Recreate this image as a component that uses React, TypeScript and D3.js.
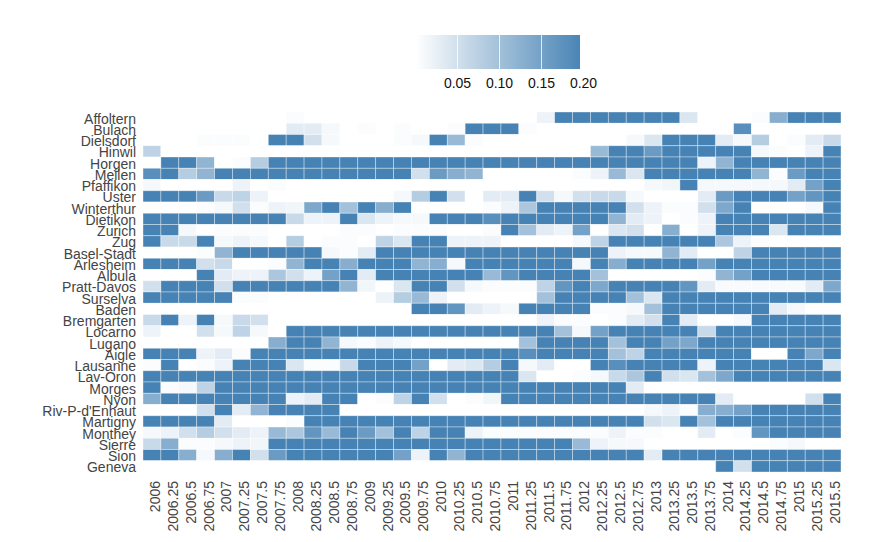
import React from "react";
import * as d3 from "d3";

const regions = [
  "Affoltern", "Bulach", "Dielsdorf", "Hinwil", "Horgen", "Meilen", "Pfaffikon", "Uster",
  "Winterthur", "Dietikon", "Zurich", "Zug", "Basel-Stadt", "Arlesheim", "Albula", "Pratt-Davos",
  "Surselva", "Baden", "Bremgarten", "Locarno", "Lugano", "Aigle", "Lausanne", "Lav-Oron",
  "Morges", "Nyon", "Riv-P-d'Enhaut", "Martigny", "Monthey", "Sierre", "Sion", "Geneva",
];

const periods = [
  "2006", "2006.25", "2006.5", "2006.75", "2007", "2007.25", "2007.5", "2007.75",
  "2008", "2008.25", "2008.5", "2008.75", "2009", "2009.25", "2009.5", "2009.75",
  "2010", "2010.25", "2010.5", "2010.75", "2011", "2011.25", "2011.5", "2011.75",
  "2012", "2012.25", "2012.5", "2012.75", "2013", "2013.25", "2013.5", "2013.75",
  "2014", "2014.25", "2014.5", "2014.75", "2015", "2015.25", "2015.5",
];

// one row per region, one value per quarter
const values: number[][] = [
  /* Affoltern */ [0, 0, 0, 0, 0, 0, 0, 0, .005, 0, 0, 0, 0, 0, 0, 0, 0, 0, 0, 0, 0, 0, .02, .2, .2, .2, .2, .2, .2, .2, .04, 0, 0, 0, .005, .13, .2, .2, .2],
  /* Bulach */ [0, 0, 0, 0, 0, 0, 0, 0, .03, .03, .01, 0, .005, 0, .005, 0, 0, .005, .2, .2, .2, .005, 0, 0, 0, 0, 0, 0, 0, 0, 0, 0, 0, .18, 0, 0, 0, 0, 0],
  /* Dielsdorf */ [0, 0, 0, .005, .005, .005, 0, .2, .2, .05, .01, 0, 0, 0, .005, .01, .2, .11, .005, 0, 0, 0, 0, 0, 0, 0, 0, .01, .04, .2, .2, .2, .03, .01, .08, 0, .005, .03, .06],
  /* Hinwil */ [.07, 0, 0, 0, 0, 0, 0, 0, 0, 0, 0, 0, 0, 0, 0, 0, 0, 0, 0, 0, 0, 0, 0, 0, 0, .11, .2, .2, .16, .2, .2, .2, .2, .2, .01, .005, 0, .02, .2],
  /* Horgen */ [0, .2, .2, .12, 0, .005, .08, .2, .2, .2, .2, .2, .2, .2, .2, .2, .2, .2, .2, .2, .2, .2, .2, .2, .2, .2, .2, .2, .2, .2, .2, .02, .12, .2, .2, .2, .2, .2, .2],
  /* Meilen */ [.18, .2, .08, .12, .2, .2, .2, .2, .2, .2, .2, .2, .2, .2, .2, .05, .16, .13, .12, 0, 0, 0, 0, 0, .005, .02, .11, .04, .2, .2, .2, .2, .2, .2, .12, .005, .16, .2, .2],
  /* Pfaffikon */ [.01, 0, 0, 0, 0, .02, 0, .005, 0, 0, 0, 0, 0, 0, 0, 0, 0, 0, 0, 0, 0, 0, 0, 0, 0, 0, 0, 0, .01, .015, .2, .01, .01, .01, .01, .01, .03, .15, .2],
  /* Uster */ [.2, .2, .2, .16, .06, .07, .02, 0, 0, 0, 0, 0, 0, 0, .01, .08, .2, .05, 0, .03, .03, .2, .05, .01, .05, .06, .06, .01, 0, 0, 0, .03, .16, .2, .2, .2, .15, .17, .2],
  /* Winterthur */ [0, 0, 0, .005, .01, .05, .005, .02, .015, .14, .2, .1, .2, .13, .2, 0, 0, 0, 0, .005, .02, .09, .2, .2, .2, .2, .2, .05, .02, .005, .005, .05, .14, .2, 0, 0, 0, .01, .2],
  /* Dietikon */ [.2, .2, .2, .2, .2, .2, .2, .2, .06, .02, .02, .2, .04, .02, .01, .01, .2, .2, .2, .18, .2, .2, .2, .2, .2, .2, .12, .03, .02, 0, .005, .02, .2, .2, .2, .2, .2, .2, .2],
  /* Zurich */ [.2, .2, .01, 0, .005, .005, .005, 0, 0, 0, 0, .005, .005, 0, .005, .005, .005, 0, 0, .005, .2, .1, .03, .02, .15, 0, .04, .05, 0, .13, 0, .02, .2, .2, .2, .04, .2, .2, .2],
  /* Zug */ [.2, .06, .06, .2, .01, .02, .01, 0, .08, 0, .005, .005, 0, .07, .04, .2, .2, .02, .02, .02, 0, 0, 0, 0, .01, .07, .2, .2, .2, .2, .2, .2, .09, .02, .005, 0, 0, 0, 0],
  /* Basel-Stadt */ [0, 0, 0, .005, .12, .2, .2, .2, .2, .2, .01, .005, .03, .2, .2, .2, .2, .2, .2, .2, .2, .2, .2, .2, .2, .2, .02, .01, .01, .12, .03, 0, 0, .07, .2, .2, .2, .2, .2],
  /* Arlesheim */ [.2, .2, .2, .05, .06, 0, 0, .005, .12, .2, .2, .13, .2, .2, .2, .12, .13, .01, .2, .2, .2, .2, .2, .2, .01, .2, .13, .2, .2, .2, .2, .15, .2, .2, .2, .2, .2, .2, .2],
  /* Albula */ [0, 0, 0, .2, .03, .02, .02, .09, .05, .02, .15, .2, .03, .2, .2, .2, .2, .2, .2, .11, .17, .2, .2, .2, .2, .1, 0, 0, 0, 0, 0, .005, .12, .15, .2, .2, .2, .2, .2],
  /* Pratt-Davos */ [.05, .2, .2, .2, .05, .2, .2, .2, .2, .2, .2, .12, .015, 0, .04, .2, .2, .05, .01, .005, .005, .005, .07, .17, .2, .14, .2, .2, .2, .2, .17, .03, .008, .008, .008, .008, .008, .03, .14],
  /* Surselva */ [.2, .2, .2, .2, .2, .005, .005, 0, 0, 0, 0, 0, 0, .02, .08, .11, .02, 0, 0, 0, 0, 0, .1, .2, .2, .2, .2, .1, .04, .2, .2, .2, .2, .2, .2, .2, .2, .2, .2],
  /* Baden */ [0, 0, 0, 0, 0, 0, 0, 0, 0, 0, 0, 0, 0, 0, 0, .2, .2, .17, .03, .02, .01, .2, .2, .2, .2, .005, .005, .01, .1, .2, .2, .2, .2, .2, .2, .03, .01, 0, 0],
  /* Bremgarten */ [.06, .2, .02, .2, .01, .06, .05, 0, 0, 0, 0, 0, 0, 0, 0, 0, 0, 0, 0, 0, 0, 0, .02, .005, .005, 0, .005, .03, .05, .2, .03, 0, 0, .01, .2, .2, .2, .2, .2],
  /* Locarno */ [.02, 0, 0, .05, .01, .07, .01, 0, .2, .2, .2, .2, .2, .2, .2, .2, .2, .2, .2, .2, .2, .2, .2, .1, .01, .15, .2, .2, .2, .2, .2, .06, .2, .2, .2, .2, .2, .2, .2],
  /* Lugano */ [0, 0, 0, 0, 0, 0, 0, .13, .2, .2, .12, .01, .005, .02, .01, 0, 0, 0, 0, 0, 0, .1, .2, .2, .2, .2, .1, .2, .2, .15, .14, .2, .2, .2, .2, .2, .2, .2, .2],
  /* Aigle */ [.2, .2, .2, .02, .03, .005, .2, .2, .2, .2, .2, .2, .2, .2, .2, .2, .2, .2, .2, .2, .2, .18, .2, .2, .2, .2, .1, .07, .2, .2, .2, .2, .2, .2, 0, 0, .2, .14, .2],
  /* Lausanne */ [.005, .2, 0, .005, .02, .2, .2, .2, .04, .005, .005, .06, .2, .2, .2, .15, 0, .03, .04, .08, .2, .01, .03, 0, 0, .2, .18, .2, .2, .2, .2, .02, .2, .2, .2, .2, .2, .2, .04],
  /* Lav-Oron */ [.2, .2, .2, .2, .2, .2, .2, .2, .2, .2, .2, .2, .2, .2, .2, .2, .2, .2, .2, .2, .2, .04, 0, 0, .005, .01, .06, .09, .2, .05, .04, .1, .14, .2, .2, .2, .2, .2, .2],
  /* Morges */ [.2, .005, .01, .07, .2, .2, .2, .2, .2, .2, .2, .2, .2, .2, .2, .2, .2, .2, .2, .2, .2, .2, .2, .2, .2, .2, .2, .03, 0, 0, 0, 0, 0, 0, 0, 0, 0, 0, 0],
  /* Nyon */ [.13, .2, .2, .2, .2, .2, .2, .2, .02, .03, .2, .2, 0, .005, .07, .2, .05, 0, .005, .015, .2, .2, .2, .2, .2, .2, .2, .2, .2, .2, .2, .2, .03, 0, 0, 0, 0, .05, .2],
  /* Riv-P-d'Enhaut */ [0, 0, 0, .05, .2, .03, .12, .2, .2, .2, .2, 0, 0, 0, 0, 0, 0, 0, 0, 0, 0, 0, 0, 0, 0, 0, 0, 0, .01, .02, .005, .13, .13, .15, .2, .2, .2, .2, .2],
  /* Martigny */ [.2, .2, .2, .2, .03, 0, 0, 0, .005, .2, .2, .2, .2, .2, .2, .2, .2, .2, .2, .2, .2, .2, .2, .2, .2, .2, .2, .2, .05, .04, .2, .1, .2, .2, .2, .2, .2, .2, .2],
  /* Monthey */ [.01, .02, .05, .08, .05, .03, .02, .11, .09, .17, .11, .2, .16, .1, .2, .07, .2, .2, .02, .005, .005, .005, .005, .005, .005, .005, .02, .005, .005, 0, 0, .03, 0, .005, .17, .2, .2, .2, .2],
  /* Sierre */ [.06, .13, .005, .005, .01, .02, .015, .2, .2, .2, .2, .2, .2, .2, .2, .2, .2, .2, .2, .2, .2, .2, .2, .2, .11, .02, .01, .01, 0, 0, 0, 0, 0, 0, 0, .005, .01, 0, 0],
  /* Sion */ [.2, .2, .13, .01, .13, .2, .05, .16, .2, .2, .2, .2, .2, .2, .15, .02, .2, .12, .2, .2, .2, .2, .2, .2, .2, .2, .2, .2, .03, .2, .2, .2, .2, .2, .2, .2, .2, .2, .2],
  /* Geneva */ [0, 0, 0, 0, 0, 0, 0, 0, 0, 0, 0, 0, 0, 0, 0, 0, 0, 0, 0, 0, 0, 0, 0, 0, 0, 0, 0, 0, 0, 0, 0, 0, .2, .05, .2, .2, .2, .2, .2],
];

const legendTicks = [0.05, 0.1, 0.15, 0.2];

const W = 887, H = 542;
const font = "'Liberation Sans', Arial, sans-serif";

export default function App() {
  const x = d3.scaleBand<string>().domain(periods).range([143, 841]);
  const y = d3.scaleBand<string>().domain(regions).range([112, 472]);
  const color = d3.scaleLinear<string>().domain([0, 0.2]).range(["#ffffff", "steelblue"]).clamp(true);

  // legend
  const lx = d3.scaleLinear().domain([0, 0.2]).range([415.5, 583.5]);
  const barL = 415.5, barR = 580, barT = 35, barB = 69;
  const stops = d3.range(0, 1.0001, 0.1);

  return (
    <svg width={W} height={H} style={{ position: "absolute", left: 0, top: 0 }} fontFamily={font}>
      <defs>
        <linearGradient id="lg" x1="0" x2="1" y1="0" y2="0">
          {stops.map((t) => (
            <stop key={t} offset={t} stopColor={color(lx.invert(barL + t * (barR - barL)))} />
          ))}
        </linearGradient>
      </defs>
      <rect x={barL} y={barT} width={barR - barL} height={barB - barT} fill="url(#lg)" />
      {legendTicks.map((t) => (
        <g key={t}>
          {t < 0.2 && (
            <line x1={lx(t)} x2={lx(t)} y1={barT} y2={barB} stroke="#fff" strokeOpacity={0.8} strokeWidth={1} />
          )}
          <text x={lx(t)} y={88} textAnchor="middle" fontSize={14} fill="#111">
            {d3.format(".2f")(t)}
          </text>
        </g>
      ))}

      {values.map((row, i) =>
        row.map((v, j) => (
          <rect
            key={`${i}-${j}`}
            x={x(periods[j])}
            y={y(regions[i])}
            width={x.bandwidth()}
            height={y.bandwidth()}
            fill={color(v)}
            stroke="#fff"
            strokeOpacity={0.45}
            strokeWidth={0.8}
          />
        ))
      )}

      {regions.map((r) => (
        <text
          key={r}
          x={136}
          y={(y(r) ?? 0) + y.bandwidth() / 2 + 1}
          dy="0.35em"
          textAnchor="end"
          fontSize={14}
          fill="#444"
        >
          {r}
        </text>
      ))}

      {periods.map((p) => {
        const cx = (x(p) ?? 0) + x.bandwidth() / 2 + 3;
        return (
          <text
            key={p}
            transform={`translate(${cx},481) rotate(-90)`}
            dy="0.35em"
            textAnchor="end"
            fontSize={14}
            fill="#444"
          >
            {p}
          </text>
        );
      })}
    </svg>
  );
}
